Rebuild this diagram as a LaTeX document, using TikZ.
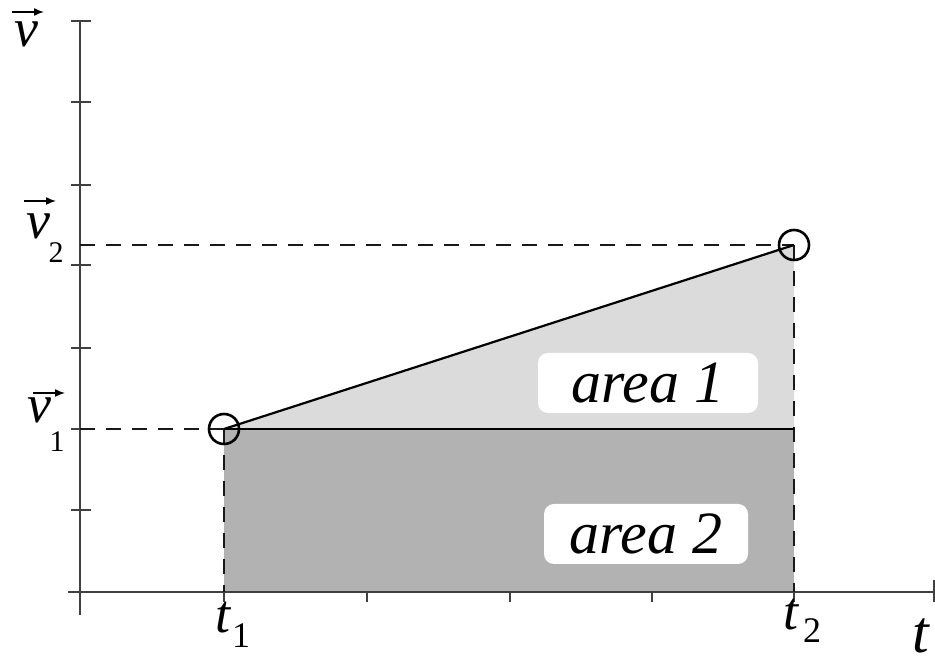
\documentclass[tikz,border=0pt]{standalone}
\usepackage{fontspec}
\setmainfont{Liberation Serif}
\usetikzlibrary{arrows.meta}
\begin{document}
\begin{tikzpicture}[x=1pt,y=1pt,
  ax/.style={line width=1.6pt,black!75},
  tk/.style={line width=1.4pt,black!75},
  dl/.style={line width=1.4pt,black!90,dash pattern=on 15pt off 11pt},
  vecarrow/.style={line width=1.5pt,-{Latex[length=10pt,width=8pt]}},
  sym/.style={inner sep=0pt,anchor=base,font=\fontsize{54}{56}\selectfont\itshape},
  tsym/.style={inner sep=0pt,anchor=base,font=\fontsize{54}{56}\selectfont\itshape},
  subv/.style={inner sep=0pt,anchor=base,font=\fontsize{30}{32}\selectfont},
  subt/.style={inner sep=0pt,anchor=base,font=\fontsize{36}{38}\selectfont},
  pt/.style={circle,draw,line width=2.6pt,minimum size=30pt,inner sep=0pt},
  areabox/.style={fill=white,rounded corners=10pt,inner sep=0pt,minimum height=60pt,
    font=\fontsize{60}{62}\selectfont\itshape}
]
\useasboundingbox (0,0) rectangle (935,663);
% key coordinates
\coordinate (ytop) at (80,643);
\coordinate (ybot) at (80,48);
\coordinate (xl) at (68,71);
\coordinate (xr) at (934,71);
\coordinate (t1a) at (224,71);
\coordinate (t2a) at (794,71);
\coordinate (v1a) at (80,234);
\coordinate (v2a) at (80,418);
\coordinate (c1) at (224,234);
\coordinate (c2) at (794,418);
\coordinate (c2low) at (794,234);
% fills
\fill[fill=black!14] (c1) -- (c2) -- (c2low) -- cycle;
\fill[fill=black!30] (t1a) rectangle (c2low);
% axes
\draw[ax] (ybot) -- (ytop);
\draw[ax] (xl) -- (xr);
\foreach \yy in {642,561,478,398,315,234,153} \draw[tk] (71,\yy) -- (91,\yy);
\foreach \xx in {224,367,510,652,794} \draw[tk] (\xx,71) -- (\xx,61);
\draw[tk] (934,83) -- (934,61);
% dashed guides
\draw[dl] (v2a) -- (c2);
\draw[dl] (v1a) -- (c1);
\draw[dl] (c1) -- (t1a);
\draw[dl] (c2) -- (t2a);
% solid lines
\draw[line width=1.8pt] (c1) -- (c2low);
\draw[line width=2.2pt] (c1) -- (c2);
\node[pt] (p1) at (c1) {};
\node[pt] (p2) at (c2) {};
% area labels
\node[areabox,minimum width=220pt] (a1) at (648,280) {area 1};
\node[areabox,minimum width=204pt] (a2) at (646,129) {area 2};
% v labels
\node[sym] (vt) at (26,616) {v};
\coordinate (vta) at (12,651); \coordinate (vtb) at (44,651);
\draw[vecarrow] (vta) -- (vtb);
\node[sym] (v2) at (38,424) {v};
\node[subv] (v2s) at (56,400) {2};
\coordinate (v2aa) at (24,462); \coordinate (v2ab) at (56,462);
\draw[vecarrow] (v2aa) -- (v2ab);
\node[sym] (v1) at (39,240) {v};
\node[subv] (v1s) at (57,211) {1};
\coordinate (v1aa) at (33,270); \coordinate (v1ab) at (65,270);
\draw[vecarrow] (v1aa) -- (v1ab);
% t labels
\node[tsym] (t1) at (223,30) {t};
\node[subt] (t1s) at (241,15) {1};
\node[tsym] (t2) at (791,33) {t};
\node[subt] (t2s) at (812,20) {2};
\node[inner sep=0pt,anchor=base,font=\fontsize{60}{62}\selectfont\itshape] (tt) at (921,10) {t};
\end{tikzpicture}
\end{document}
